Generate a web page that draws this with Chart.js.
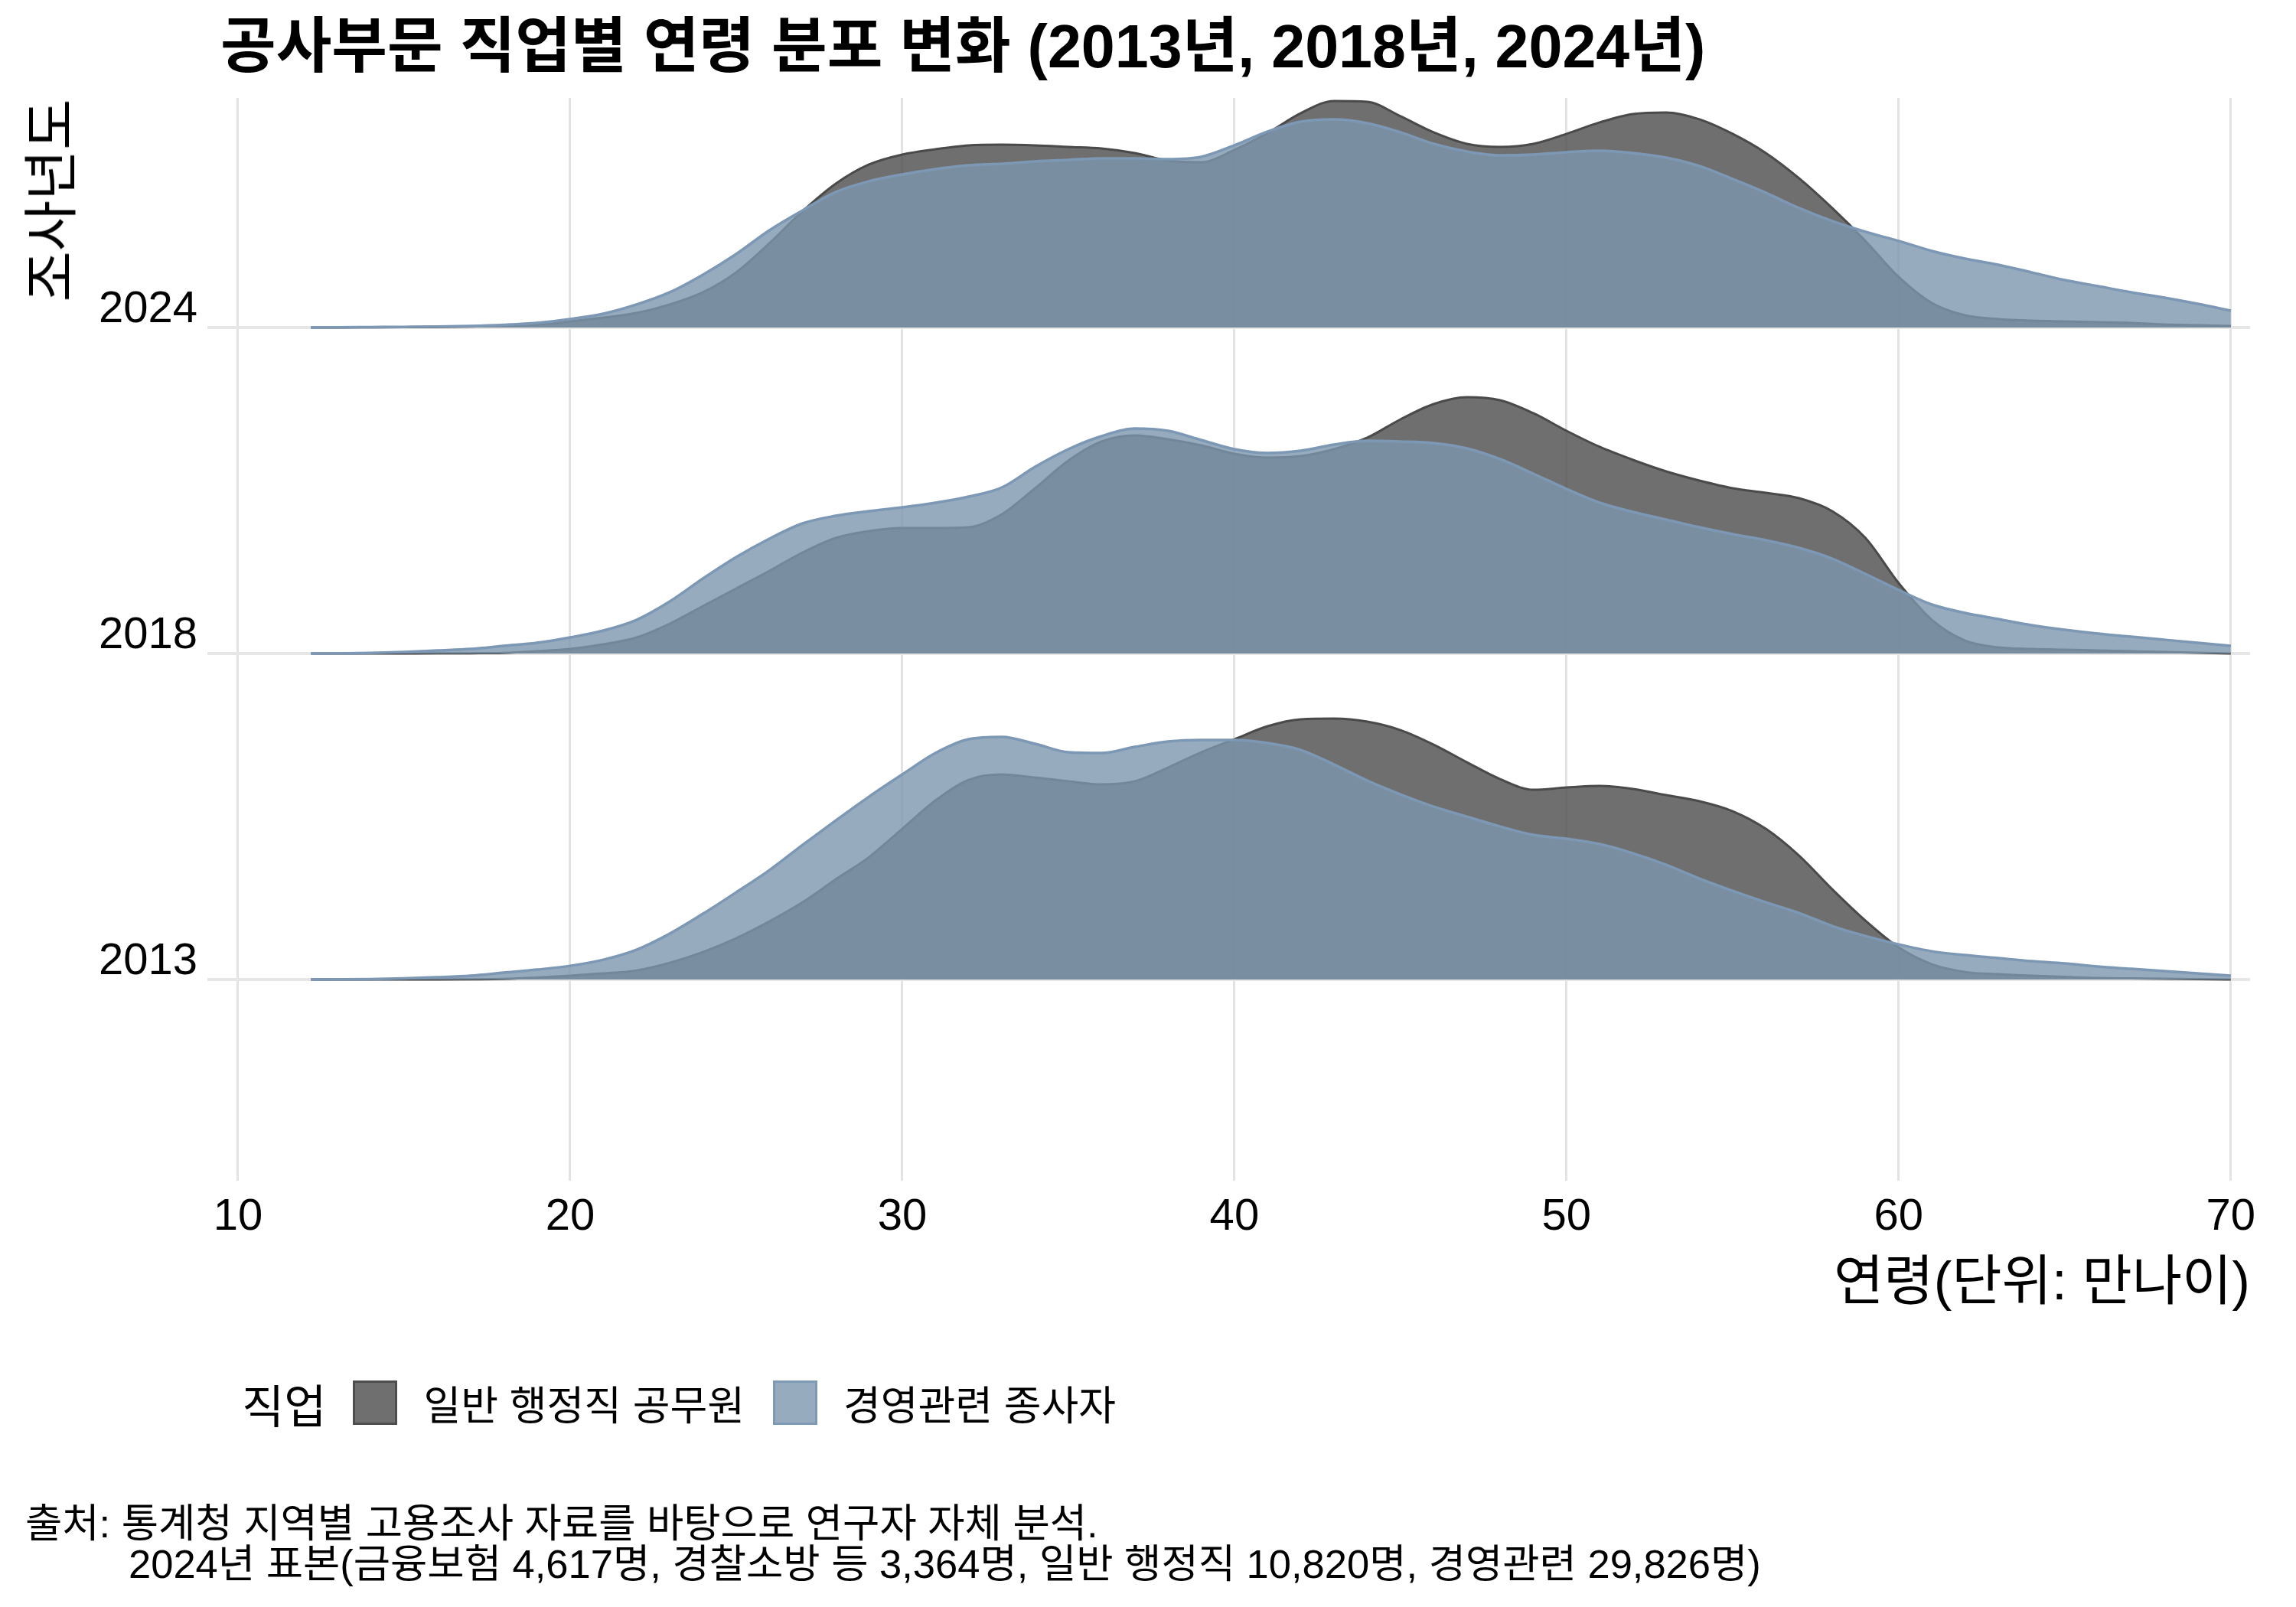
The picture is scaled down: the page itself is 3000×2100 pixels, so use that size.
<!DOCTYPE html>
<html lang="ko">
<head>
<meta charset="utf-8">
<title>공사부문 직업별 연령 분포 변화</title>
<script src="https://cdn.jsdelivr.net/npm/chart.js@4.4.1/dist/chart.umd.min.js"></script>
<style>
  html, body { margin: 0; padding: 0; background: #fff; }
  #wrap {
    position: relative; width: 3000px; height: 2100px; overflow: hidden;
    font-family: "Liberation Sans", "Noto Sans CJK KR", sans-serif; color: #000;
  }
  #myCanvas { position: absolute; left: 0; top: 0; }
  .title { position: absolute; left: 288px; top: 21px; font-size: 79px; font-weight: bold; line-height: 1; white-space: nowrap; }
  .ytitle { position: absolute; left: 67px; top: 262px; font-size: 72px; line-height: 1; white-space: nowrap;
    transform: translate(-50%, -50%) rotate(-90deg); }
  .xtitle { position: absolute; right: 60px; top: 1638px; font-size: 71px; line-height: 1; white-space: nowrap; }
  .legend { position: absolute; left: 316px; top: 1804px; height: 58px; display: flex; align-items: center; font-size: 53px; white-space: nowrap; }
  .legend .ltitle { font-size: 60px; margin-right: 35px; }
  .legend .key { width: 52px; height: 52px; border: 3px solid; margin-right: 34px; }
  .legend .lab { margin-right: 37px; }
  .caption { position: absolute; font-size: 52.5px; line-height: 53px; white-space: nowrap; }
</style>
</head>
<body>
<div id="wrap">
  <canvas id="myCanvas" width="3000" height="2100"></canvas>
  <div class="title">공사부문 직업별 연령 분포 변화 (2013년, 2018년, 2024년)</div>
  <div class="ytitle">조사년도</div>
  <div class="xtitle">연령(단위: 만나이)</div>
  <div class="legend" id="legend"></div>
  <div class="caption" style="left:33px; top:1964px">출처: 통계청 지역별 고용조사 자료를 바탕으로 연구자 자체 분석.</div>
  <div class="caption" style="left:168px; top:2017px">2024년 표본(금융보험 4,617명, 경찰소방 등 3,364명, 일반 행정직 10,820명, 경영관련 29,826명)</div>
</div>
<script>
"use strict";

// survey years (bottom to top) and the two job groups
const years = ["2013", "2018", "2024"];
const jobs = ["일반 행정직 공무원", "경영관련 종사자"];

// ages where the ridge heights were read
const ages = [12.2, 13, 14, 15, 16, 17, 18, 19, 20,
  21, 22, 23, 24, 25, 26, 27, 28, 29, 30,
  31, 32, 33, 34, 35, 36, 37, 38, 39, 40,
  41, 42, 43, 44, 45, 46, 47, 48, 49, 50,
  51, 52, 53, 54, 55, 56, 57, 58, 59, 60,
  61, 62, 63, 64, 65, 66, 67, 68, 69, 70];

// ridge heights (scaled density, ridgeScale = one row between years)
const admin2013 = [0, 0, 0, 0.1, 0.2, 0.4, 0.8, 2.5, 5,
  8, 12, 22, 36, 54, 76, 101, 131, 160, 197,
  234, 261, 268, 264, 259, 255, 259, 277, 297, 314,
  331, 340, 341, 337, 326, 307, 284, 262, 248, 251,
  253, 249, 241, 233, 220, 197, 162, 118, 77, 42,
  20, 10, 7, 5, 3.5, 2, 1.5, 1, 0.5, 0];
const mgmt2013 = [0, 0.2, 0.6, 1.5, 3, 5, 9, 13, 18,
  26, 39, 60, 86, 114, 143, 176, 208, 239, 268,
  296, 314, 317, 308, 297, 296, 304, 311, 313, 313,
  309, 300, 281, 260, 242, 226, 213, 200, 189, 184,
  177, 165, 150, 132, 116, 101, 87, 70, 57, 46,
  37, 32, 28, 24, 21, 17, 14, 11, 8, 5];

const admin2018 = [0, 0, 0, 0.1, 0.2, 0.4, 0.8, 3, 6,
  12, 21, 39, 62, 85, 108, 132, 151, 160, 164,
  164, 165, 182, 216, 252, 277, 285, 280, 272, 261,
  256, 258, 267, 282, 306, 326, 335, 331, 314, 291,
  270, 253, 238, 226, 216, 210, 203, 186, 151, 92,
  44, 17, 8, 6, 5, 4, 3, 2, 1, 0];
const mgmt2018 = [0, 0.3, 0.8, 2, 4, 6, 10, 14, 21,
  30, 44, 68, 98, 126, 150, 170, 180, 186, 191,
  197, 205, 217, 244, 267, 284, 294, 291, 279, 267,
  262, 265, 273, 278, 277, 275, 268, 254, 235, 215,
  197, 185, 175, 165, 156, 148, 138, 124, 104, 83,
  64, 53, 45, 37, 31, 26, 22, 18, 14, 10];

const admin2024 = [0, 0, 0.2, 0.4, 0.7, 1.2, 2, 4, 8,
  13, 19, 30, 46, 72, 110, 152, 188, 213, 226,
  233, 238, 239, 238, 236, 234, 228, 218, 216, 232,
  254, 280, 296, 295, 276, 255, 240, 236, 240, 253,
  268, 279, 281, 272, 253, 228, 195, 156, 113, 66,
  32, 16, 11, 9, 8, 7, 6, 4, 3, 2];
const mgmt2024 = [0, 0.2, 0.5, 0.8, 1.2, 2, 3.5, 6, 11,
  18, 30, 46, 69, 96, 127, 153, 177, 191, 200,
  207, 212, 214, 217, 219, 221, 221, 220, 223, 238,
  256, 269, 272, 267, 255, 240, 230, 225, 226, 229,
  231, 228, 222, 211, 194, 176, 156, 139, 125, 113,
  100, 90, 82, 72, 62, 54, 46, 39, 31, 22];

const xTicks = [10, 20, 30, 40, 50, 60, 70];
const ridgeScale = 426;

const adminByYear = [admin2013, admin2018, admin2024];
const mgmtByYear = [mgmt2013, mgmt2018, mgmt2024];

const grayFill = "rgba(75, 75, 75, 0.8)";
const grayLine = "#4a4a4a";
const blueFill = "rgba(125, 150, 174, 0.8)";
const blueLine = "#7d98b4";

function ridge(heights, row) {
  return ages.map((a, i) => ({ x: a, y: row + heights[i] / ridgeScale }));
}

const datasets = [];
years.forEach((yr, row) => {
  datasets.push({
    label: jobs[0] + " " + yr,
    data: ridge(adminByYear[row], row),
    fill: { value: row },
    backgroundColor: grayFill,
    borderColor: grayLine,
    borderWidth: 3,
    order: 10 - row * 2 + 1,
  });
  datasets.push({
    label: jobs[1] + " " + yr,
    data: ridge(mgmtByYear[row], row),
    fill: { value: row },
    backgroundColor: blueFill,
    borderColor: blueLine,
    borderWidth: 3.5,
    order: 10 - row * 2,
  });
});

const tickFont = { family: "'Liberation Sans', 'Noto Sans CJK KR', sans-serif", size: 58 };

new Chart(document.getElementById("myCanvas"), {
  type: "line",
  data: { datasets: datasets },
  options: {
    responsive: false,
    animation: false,
    devicePixelRatio: 1,
    layout: { padding: { left: 0, top: 128, right: 60, bottom: 0 } },
    elements: {
      point: { radius: 0 },
      line: { cubicInterpolationMode: "monotone", borderJoinStyle: "round" },
    },
    plugins: {
      legend: { display: false },
      tooltip: { enabled: false },
    },
    scales: {
      x: {
        type: "linear",
        min: 9.08,
        max: 70.58,
        afterBuildTicks: (axis) => { axis.ticks = xTicks.map((v) => ({ value: v })); },
        afterFit: (axis) => { axis.height = 557; },
        grid: { color: "#e3e3e3", lineWidth: 3, drawTicks: false },
        border: { display: false },
        ticks: { font: tickFont, color: "#000", padding: 13, maxRotation: 0 },
      },
      y: {
        type: "linear",
        min: -0.617,
        max: 2.704,
        afterBuildTicks: (axis) => { axis.ticks = years.map((y, i) => ({ value: i })); },
        afterFit: (axis) => { axis.width = 271; },
        grid: { color: "#e6e6e6", lineWidth: 4, drawTicks: false },
        border: { display: false },
        ticks: {
          font: tickFont, color: "#000", padding: 13, labelOffset: -23,
          callback: (v) => years[v],
        },
      },
    },
  },
});

// legend built from the job names
const legend = document.getElementById("legend");
legend.innerHTML = '<span class="ltitle">직업</span>' +
  '<span class="key" style="background:#6f6f6f;border-color:#4d4d4d"></span><span class="lab">' + jobs[0] + '</span>' +
  '<span class="key" style="background:#97abbf;border-color:#7e99b4"></span><span class="lab">' + jobs[1] + '</span>';
</script>
</body>
</html>
